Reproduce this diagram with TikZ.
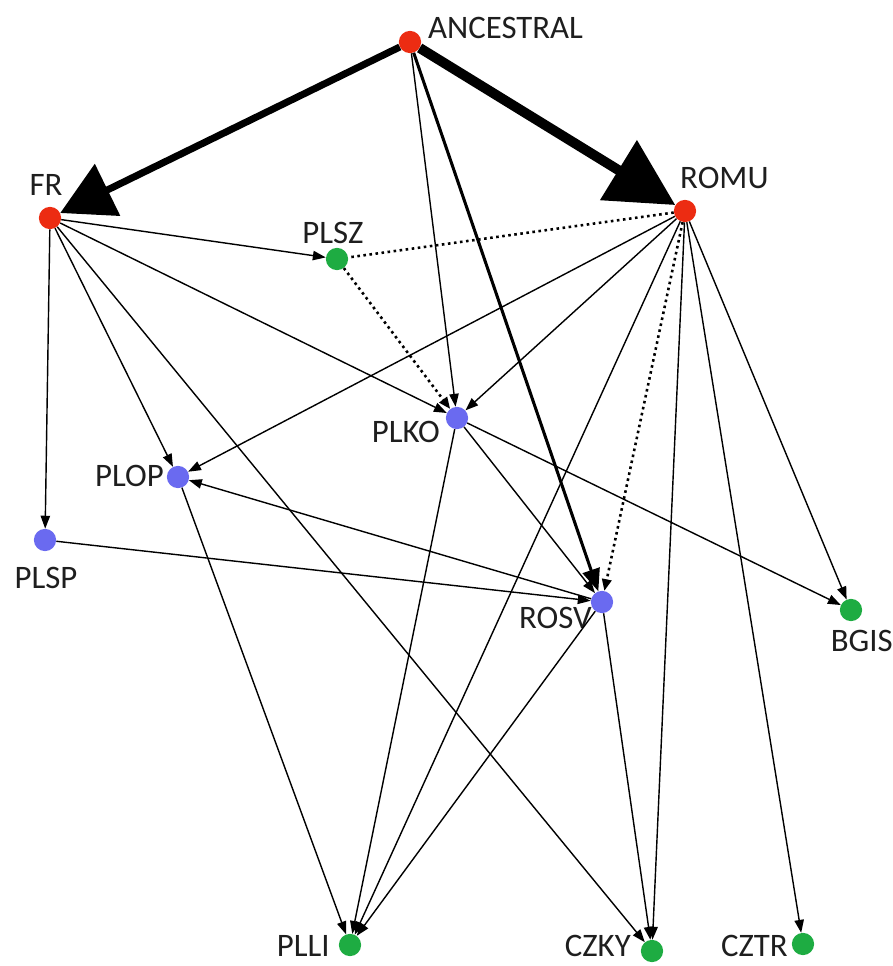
\documentclass[tikz,border=0pt]{standalone}
\usepackage{fontspec}
\setmainfont{Carlito}
\usetikzlibrary{arrows.meta}
\definecolor{popred}{RGB}{236,44,18}
\definecolor{popblue}{RGB}{106,106,240}
\definecolor{popgreen}{RGB}{30,172,66}
\definecolor{labtext}{RGB}{30,30,30}
\begin{document}
\begin{tikzpicture}[x=0.03cm, y=-0.03cm,
  dot/.style={circle, minimum size=19pt, inner sep=0pt},
  lbl/.style={inner sep=0pt, text=labtext, font=\fontsize{28}{30}\selectfont},
  edge/.style={line width=1.2pt, -{Triangle[length=11pt, width=8pt]}},
  dots/.style={line width=2.2pt, dash pattern=on 2.2pt off 3pt}]
\useasboundingbox (0,0) rectangle (893,966);
% populations
\node[dot, fill=popred] (anc) at (410,42){};
\node[dot, fill=popred] (fr) at (50,218){};
\node[dot, fill=popred] (romu) at (685,211){};
\node[dot, fill=popgreen] (plsz) at (337,259){};
\node[dot, fill=popblue] (plko) at (457,418){};
\node[dot, fill=popblue] (plop) at (178,477){};
\node[dot, fill=popblue] (plsp) at (45,540){};
\node[dot, fill=popblue] (rosv) at (602,602){};
\node[dot, fill=popgreen] (bgis) at (851,610){};
\node[dot, fill=popgreen] (plli) at (350,945){};
\node[dot, fill=popgreen] (czky) at (652,951){};
\node[dot, fill=popgreen] (cztr) at (803,944){};
% names
\node[lbl, anchor=west] (anc-t) at (428,28){ANCESTRAL};
\node[lbl] (fr-t) at (46,185){FR};
\node[lbl, anchor=west] (romu-t) at (680,178){ROMU};
\node[lbl] (plsz-t) at (333,233){PLSZ};
\node[lbl, anchor=east] (plko-t) at (440,432){PLKO};
\node[lbl, anchor=east] (plop-t) at (164,476){PLOP};
\node[lbl] (plsp-t) at (46,578){PLSP};
\node[lbl, anchor=east] (rosv-t) at (592,618){ROSV};
\node[lbl, anchor=east] (bgis-t) at (893,641){BGIS};
\node[lbl, anchor=east] (plli-t) at (330,946){PLLI};
\node[lbl, anchor=east] (czky-t) at (631,946){CZKY};
\node[lbl, anchor=east] (cztr-t) at (788,946){CZTR};
% admixture from the ancestral pool
\draw[line width=6pt, -{Triangle[length=45pt, width=48pt]}] (anc) -- (fr);
\draw[line width=8.5pt, -{Triangle[length=57pt, width=58pt]}] (anc) -- (romu);
\draw[line width=2.6pt, -{Triangle[length=19pt, width=15pt]}] (anc) -- (rosv);
\draw[edge] (anc) -- (plko);
% from FR
\draw[edge] (fr) -- (plsz);
\draw[edge] (fr) -- (plko);
\draw[edge] (fr) -- (plop);
\draw[edge] (fr) -- (plsp);
\draw[edge] (fr) -- (czky);
% from ROMU
\draw[dots] (romu) -- (plsz);
\draw[dots, -{Triangle[length=10pt, width=8pt]}] (romu) -- (rosv);
\draw[edge] (romu) -- (plop);
\draw[edge] (romu) -- (plko);
\draw[edge] (romu) -- (plli);
\draw[edge] (romu) -- (czky);
\draw[edge] (romu) -- (cztr);
\draw[edge] (romu) -- (bgis);
% among the hybrid populations
\draw[dots, -{Triangle[length=10pt, width=8pt]}] (plsz) -- (plko);
\draw[edge] (plko) -- (plli);
\draw[edge] (plko) -- (rosv);
\draw[edge] (plko) -- (bgis);
\draw[edge] (plop) -- (plli);
\draw[edge, {Triangle[length=11pt, width=8pt]}-] (plop) -- (rosv);
\draw[edge] (plsp) -- (rosv);
\draw[edge] (rosv) -- (plli);
\draw[edge] (rosv) -- (czky);
\end{tikzpicture}
\end{document}
